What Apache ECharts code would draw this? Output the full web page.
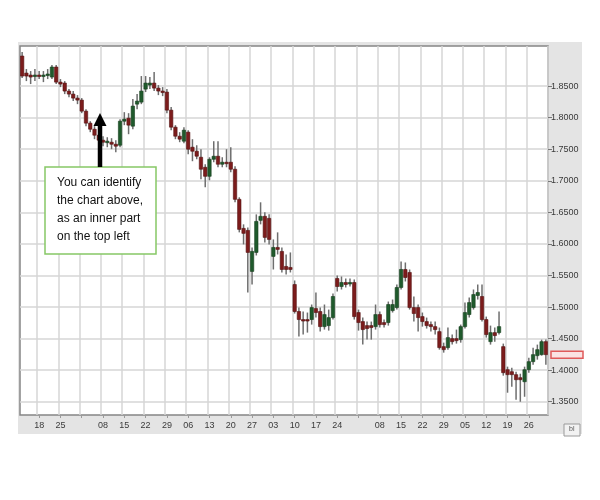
<!DOCTYPE html>
<html>
<head>
<meta charset="utf-8">
<script src="https://cdn.jsdelivr.net/npm/echarts@6/dist/echarts.min.js"></script>
<style>
html,body{margin:0;padding:0;background:#ffffff;}
#chart{width:600px;height:500px;}
</style>
</head>
<body>
<div id="chart"></div>
<script>
// Trading days (day of month), Aug 12 .. Jan 30
const days = [
'12','13','14','15',
'18','19','20','21','22',
'25','26','27','28','29',
'01','02','03','04','05',
'08','09','10','11','12',
'15','16','17','18','19',
'22','23','24','25','26',
'29','30','01','02','03',
'06','07','08','09','10',
'13','14','15','16','17',
'20','21','22','23','24',
'27','28','29','30','31',
'03','04','05','06','07',
'10','11','12','13','14',
'17','18','19','20','21',
'24','25','26','27','28',
'01','02','03','04','05',
'08','09','10','11','12',
'15','16','17','18','19',
'22','23','24','25','26',
'29','30','31','01','02',
'05','06','07','08','09',
'12','13','14','15','16',
'19','20','21','22','23',
'26','27','28','29','30'
];

const openV = [
1.8976,1.8706,1.8675,1.8659,1.8675,1.8659,1.8675,1.8643,1.8802,1.8563,
1.8548,1.8421,1.8373,1.8310,1.8278,1.8103,1.7913,1.7817,1.7722,1.7643,
1.7611,1.7611,1.7579,1.7563,1.7944,1.7992,1.7865,1.8214,1.8246,1.8452,
1.8516,1.8548,1.8468,1.8421,1.8405,1.8119,1.7849,1.7706,1.7627,1.7770,
1.7532,1.7468,1.7373,1.7214,1.7071,1.7341,1.7389,1.7262,1.7294,1.7294,
1.7183,1.6706,1.6246,1.6214,1.5564,1.5865,1.6373,1.6437,1.6405,1.5802,
1.5944,1.5881,1.5643,1.5627,1.5357,1.4929,1.4802,1.4802,1.4802,1.4976,
1.4929,1.4690,1.4706,1.4833,1.5452,1.5325,1.5389,1.5373,1.5389,1.4913,
1.4770,1.4706,1.4706,1.4690,1.4881,1.4754,1.4754,1.4944,1.4992,1.5310,
1.5595,1.5548,1.4992,1.4992,1.4849,1.4770,1.4722,1.4690,1.4611,1.4373,
1.4357,1.4500,1.4500,1.4484,1.4690,1.4881,1.4992,1.5183,1.5167,1.4802,
1.4452,1.4595,1.4595,1.4373,1.4008,1.3976,1.3929,1.3881,1.3817,1.4008,
1.4135,1.4230,1.4246,1.4452
];
const closeV = [
1.8659,1.8659,1.8643,1.8675,1.8659,1.8675,1.8691,1.8802,1.8563,1.8532,
1.8421,1.8373,1.8310,1.8278,1.8103,1.7913,1.7817,1.7722,1.7643,1.7611,
1.7627,1.7579,1.7548,1.7944,1.7976,1.7881,1.8183,1.8262,1.8421,1.8548,
1.8548,1.8468,1.8421,1.8405,1.8119,1.7849,1.7706,1.7659,1.7802,1.7500,
1.7468,1.7389,1.7183,1.7071,1.7341,1.7389,1.7262,1.7294,1.7278,1.7183,
1.6706,1.6230,1.6167,1.5865,1.5881,1.6357,1.6437,1.6103,1.6071,1.5944,
1.5913,1.5595,1.5595,1.5595,1.4929,1.4802,1.4786,1.4786,1.4992,1.4913,
1.4690,1.4881,1.4833,1.5167,1.5325,1.5389,1.5357,1.5389,1.4849,1.4754,
1.4643,1.4659,1.4675,1.4881,1.4722,1.4722,1.5040,1.5040,1.5310,1.5595,
1.5468,1.4992,1.4897,1.4833,1.4770,1.4706,1.4690,1.4643,1.4357,1.4325,
1.4516,1.4452,1.4468,1.4690,1.4913,1.5071,1.5198,1.5230,1.4802,1.4564,
1.4595,1.4548,1.4690,1.3960,1.3929,1.3929,1.3849,1.3849,1.4008,1.4135,
1.4246,1.4325,1.4452,1.4246
];
const lowV = [
1.8627,1.8579,1.8532,1.8579,1.8611,1.8563,1.8611,1.8611,1.8532,1.8484,
1.8373,1.8325,1.8262,1.8214,1.8071,1.7865,1.7770,1.7659,1.7563,1.7548,
1.7532,1.7500,1.7452,1.7532,1.7881,1.7738,1.7817,1.8135,1.8214,1.8405,
1.8452,1.8421,1.8357,1.8341,1.8071,1.7802,1.7659,1.7611,1.7595,1.7421,
1.7310,1.7341,1.7024,1.6897,1.7008,1.7294,1.7214,1.7214,1.7214,1.7135,
1.6659,1.6183,1.5992,1.5230,1.5357,1.5817,1.6310,1.6024,1.5992,1.5595,
1.5833,1.5548,1.5516,1.5548,1.4897,1.4532,1.4564,1.4595,1.4722,1.4833,
1.4611,1.4643,1.4627,1.4802,1.5246,1.5278,1.5310,1.5325,1.4802,1.4627,
1.4405,1.4484,1.4484,1.4643,1.4675,1.4675,1.4706,1.4913,1.4960,1.5278,
1.5405,1.4960,1.4770,1.4611,1.4690,1.4659,1.4611,1.4564,1.4325,1.4278,
1.4325,1.4405,1.4421,1.4436,1.4659,1.4833,1.4960,1.5119,1.4770,1.4516,
1.4405,1.4452,1.4564,1.3913,1.3643,1.3738,1.3532,1.3500,1.3579,1.3960,
1.4087,1.4167,1.4230,1.4087
];
const highV = [
1.9040,1.8770,1.8738,1.8770,1.8738,1.8738,1.8770,1.8833,1.8833,1.8611,
1.8579,1.8452,1.8421,1.8357,1.8310,1.8135,1.7944,1.7865,1.7770,1.7706,
1.7690,1.7675,1.7643,1.7976,1.8087,1.8071,1.8294,1.8373,1.8659,1.8659,
1.8643,1.8722,1.8516,1.8484,1.8452,1.8167,1.7881,1.7770,1.7849,1.7802,
1.7659,1.7563,1.7500,1.7262,1.7373,1.7627,1.7627,1.7373,1.7500,1.7532,
1.7230,1.6738,1.6310,1.6262,1.5944,1.6468,1.6659,1.6500,1.6468,1.6071,
1.6183,1.5944,1.5833,1.5865,1.5421,1.4992,1.4929,1.4913,1.5040,1.5230,
1.4992,1.5040,1.4960,1.5214,1.5500,1.5484,1.5452,1.5452,1.5437,1.4960,
1.4833,1.4770,1.4770,1.5040,1.4929,1.4802,1.5087,1.5119,1.5357,1.5722,
1.5706,1.5595,1.5167,1.5040,1.4913,1.4833,1.4770,1.4770,1.4675,1.4436,
1.4675,1.4564,1.4643,1.4722,1.5071,1.5151,1.5278,1.5357,1.5357,1.4849,
1.4706,1.4675,1.4929,1.4421,1.4056,1.4040,1.3976,1.3944,1.4056,1.4198,
1.4357,1.4405,1.4484,1.4484
];

// price-axis labels shown on the right
const priceTicks = [1.35, 1.40, 1.45, 1.50, 1.55, 1.60, 1.65, 1.70, 1.75, 1.80, 1.85];
const priceMin = 1.329, priceMax = 1.9135;

const candleData = days.map((d, i) => [i, openV[i], closeV[i], lowV[i], highV[i]]);
const isWeekStart = (i) => (i - 4) % 5 === 0;

const chart = echarts.init(document.getElementById('chart'), null, {renderer: 'canvas'});

const mainGrid = {
  left: 20, top: 46, right: 52, bottom: 85,
  show: true, backgroundColor: '#ffffff', borderColor: '#858585', borderWidth: 1.5
};

const option = {
  animation: false,
  backgroundColor: '#ffffff',
  graphic: [
    {id: 'bg', type: 'rect', z: -10, shape: {x: 18, y: 42, width: 564, height: 392}, style: {fill: '#e4e4e4'}, silent: true}
  ],
  grid: [mainGrid],
  xAxis: [{
    type: 'category',
    data: days,
    boundaryGap: true,
    axisLine: {show: false},
    axisTick: {show: true, alignWithLabel: true, length: 3, interval: (i) => isWeekStart(i), lineStyle: {color: '#9a9a9a'}},
    axisLabel: {
      interval: (i, v) => isWeekStart(i) && v !== '01',
      margin: 6, fontSize: 9, color: '#3a3a3a', fontFamily: 'Liberation Sans'
    },
    splitLine: {show: true, interval: (i) => isWeekStart(i), lineStyle: {color: '#d6d6d6', width: 1.5}}
  }],
  yAxis: [{
    type: 'value',
    position: 'right',
    min: priceMin, max: priceMax,
    axisLine: {show: false, onZero: false},
    axisTick: {show: false},
    axisLabel: {show: false},
    splitLine: {show: false}
  }],
  series: [{
    type: 'custom',
    z: 5,
    data: candleData,
    encode: {x: 0, y: [1, 2, 3, 4]},
    clip: true,
    renderItem: function (params, api) {
      const idx = api.value(0);
      const o = api.coord([idx, api.value(1)]);
      const c = api.coord([idx, api.value(2)]);
      const l = api.coord([idx, api.value(3)]);
      const h = api.coord([idx, api.value(4)]);
      const bw = api.size([1, 0])[0] * 0.8;
      const up = api.value(2) >= api.value(1);
      const top = Math.min(o[1], c[1]);
      const ht = Math.max(Math.abs(o[1] - c[1]), 1.5);
      return {
        type: 'group',
        children: [
          {type: 'line', shape: {x1: o[0], y1: h[1], x2: o[0], y2: l[1]}, style: {stroke: '#6e6e6e', lineWidth: 1.5}},
          {type: 'rect', shape: {x: o[0] - bw / 2, y: top, width: bw, height: ht},
           style: {fill: up ? '#1f5a2c' : '#7c1c1c', stroke: up ? '#17401f' : '#561212', lineWidth: 0.6}}
        ]
      };
    }
  }]
};
chart.setOption(option);

// Second (label) grid spans exactly the labelled price range, placed via the data scale
const yTop = chart.convertToPixel({yAxisIndex: 0}, priceTicks[priceTicks.length - 1]);
const yBot = chart.convertToPixel({yAxisIndex: 0}, priceTicks[0]);
const lastClose = closeV[closeV.length - 1];
const yLast = chart.convertToPixel({yAxisIndex: 0}, lastClose);

chart.setOption({
  grid: [
    mainGrid,
    {left: 20, right: 52, top: yTop, height: yBot - yTop, show: false}
  ],
  xAxis: [
    {},
    {type: 'value', gridIndex: 1, show: false, min: 0, max: 1, axisLine: {onZero: false}}
  ],
  yAxis: [
    {},
    {
      type: 'value', gridIndex: 1, position: 'right', z: 1,
      min: priceTicks[0], max: priceTicks[priceTicks.length - 1], interval: 0.05,
      axisLine: {show: false, onZero: false},
      axisTick: {show: true, length: 4, lineStyle: {color: '#777'}},
      axisLabel: {margin: 3, fontSize: 9, color: '#3a3a3a', fontFamily: 'Liberation Sans', formatter: (v) => v.toFixed(4)},
      splitLine: {show: true, lineStyle: {color: '#d6d6d6', width: 1.5}}
    }
  ],
  graphic: [
    {id: 'bg', type: 'rect', z: -10, shape: {x: 18, y: 42, width: 564, height: 392}, style: {fill: '#e4e4e4'}, silent: true},
    {id: 'price', type: 'rect', z: 100, shape: {x: 551, y: yLast - 3.5, width: 32, height: 7}, style: {fill: '#fbe3e3', stroke: '#e05a5a', lineWidth: 1.5}},
    {id: 'blbox', type: 'rect', z: 100, shape: {x: 564, y: 424, width: 16, height: 12}, style: {fill: '#f2f2f2', stroke: '#9a9a9a', lineWidth: 1}},
    {id: 'bltext', type: 'text', z: 101, x: 569, y: 426, style: {text: 'bl', fontSize: 7, fill: '#555', fontFamily: 'Liberation Sans'}},
    {id: 'note', type: 'rect', z: 100, shape: {x: 45, y: 167, width: 111, height: 87}, style: {fill: '#ffffff', stroke: '#86c866', lineWidth: 1.5}},
    {id: 'notetext', type: 'text', z: 101, x: 57, y: 174,
     style: {text: 'You can identify\nthe chart above,\nas an inner part\non the top left', fontSize: 12, lineHeight: 18, fill: '#111111', fontFamily: 'Liberation Sans'}},
    {id: 'shaft', type: 'line', z: 100, shape: {x1: 100, y1: 167, x2: 100, y2: 124}, style: {stroke: '#000000', lineWidth: 4.5}},
    {id: 'head', type: 'polygon', z: 100, shape: {points: [[100, 113], [93.5, 126], [106.5, 126]]}, style: {fill: '#000000'}}
  ]
});
</script>
</body>
</html>
